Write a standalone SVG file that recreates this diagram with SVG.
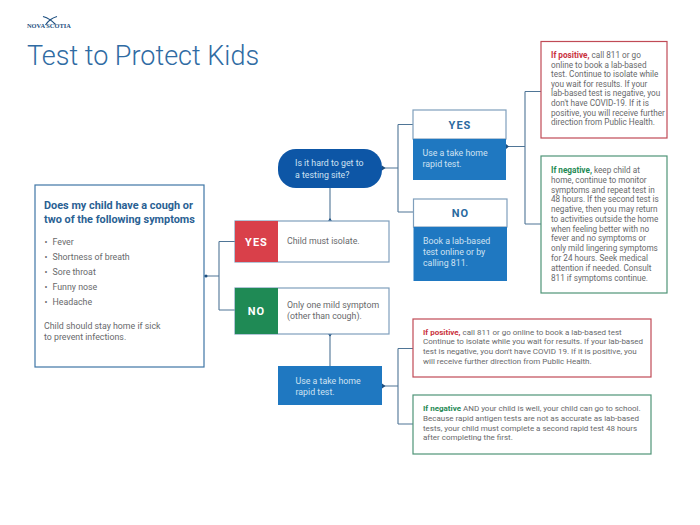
<svg xmlns="http://www.w3.org/2000/svg" width="700" height="525" viewBox="0 0 700 525">
<style>
text{font-family:Roboto,"Liberation Sans",sans-serif}
.b{font-size:8.8px;fill:#68696b}
.n{font-size:8.2px;fill:#68696b}
.m{font-size:8px;fill:#68696b}
.w{font-size:8.8px;fill:#cfe2f2}
.box{fill:#fff;stroke-width:1.2}
.sb{stroke:#7f9fbc}
.c{fill:none;stroke:#4f7596;stroke-width:1.1}
.d{fill:#1d4f80}
.lab{font-size:11px;font-weight:700;letter-spacing:1px;text-anchor:middle}
.r{font-weight:700;fill:#c9313d}
.g{font-weight:700;fill:#1f8a55}
</style>
<rect width="700" height="525" fill="#fff"/>
<g id="logo">
<path d="M43 16.500C48 18 52 20.500 55.500 24.500M57 16.500C52 18 48 21 45.500 25" fill="none" stroke="#1d4f80" stroke-width="1.2"/>
<text x="27" y="28" font-size="6.400" font-weight="700" fill="#1d4f80" style="font-family:'Liberation Serif',serif">NOVA SCOTIA</text>
</g>
<text id="title" x="27" y="65" font-size="27" font-weight="300" fill="#2f6ba3">Test to Protect Kids</text>
<g id="connectors">
<path class="c" d="M204 276H219M219 241.500V310M219 241.500H235M219 310H235"/>
<path class="c" d="M330 188V221M330 334V366"/>
<path class="c" d="M382 168H398M398 124.500V212M398 124.500H413M398 212H413"/>
<path class="c" d="M506 146.500H525M525 91.500V224M525 91.500H541M525 224H541"/>
<path class="c" d="M382 386H398M398 348.500V424M398 348.500H413M398 424H413"/>
<circle class="d" cx="206" cy="276" r="1.500"/>
<path class="d" d="M328 221L330 218 332 221ZM328 334L330 336.500 332 334ZM382 165.500L385.500 168 382 170.500ZM506 144L509 146.500 506 149ZM382 383.500L385.500 386 382 388.500Z"/>
</g>
<g id="symptoms">
<rect class="box" x="35" y="185" width="169" height="182" stroke="#3f76a6"/>
<text x="44" y="209" font-size="10.900" font-weight="700" fill="#2a6193">Does my child have a cough or</text>
<text x="44" y="223" font-size="10.900" font-weight="700" fill="#2a6193">two of the following symptoms</text>
<text class="b" x="44.500" y="245">•</text><text class="b" x="52.500" y="245">Fever</text>
<text class="b" x="44.500" y="260">•</text><text class="b" x="52.500" y="260">Shortness of breath</text>
<text class="b" x="44.500" y="274.500">•</text><text class="b" x="52.500" y="274.500">Sore throat</text>
<text class="b" x="44.500" y="289.500">•</text><text class="b" x="52.500" y="289.500">Funny nose</text>
<text class="b" x="44.500" y="304.500">•</text><text class="b" x="52.500" y="304.500">Headache</text>
<text class="b" x="44" y="329">Child should stay home if sick</text>
<text class="b" x="44" y="340">to prevent infections.</text>
</g>
<g id="decision">
<rect x="278" y="149" width="104" height="39" rx="18" fill="#0d56a6"/>
<text class="w" x="295" y="166">Is it hard to get to</text>
<text class="w" x="295" y="178">a testing site?</text>
</g>
<g id="yes-isolate">
<rect class="box sb" x="235" y="221" width="154" height="41"/>
<rect x="235" y="221" width="43" height="41" fill="#d9404a"/>
<text class="lab" x="256.500" y="245.500" fill="#fff">YES</text>
<text class="b" x="287" y="243.500">Child must isolate.</text>
</g>
<g id="no-mild">
<rect class="box sb" x="235" y="288" width="154" height="46"/>
<rect x="235" y="288" width="43" height="46" fill="#1f8a55"/>
<text class="lab" x="256.500" y="315" fill="#fff">NO</text>
<text class="b" x="287" y="308">Only one mild symptom</text>
<text class="b" x="287" y="319">(other than cough).</text>
</g>
<g id="yes-rapid">
<rect class="box sb" x="413" y="110" width="93" height="29"/>
<rect x="413" y="139" width="93" height="41" fill="#1f78c1"/>
<text class="lab" x="460" y="129" fill="#2a6a9f">YES</text>
<text class="w" x="422.500" y="156">Use a take home</text>
<text class="w" x="422.500" y="167">rapid test.</text>
</g>
<g id="no-lab">
<rect class="box sb" x="413.500" y="199" width="93.500" height="28"/>
<rect x="413.500" y="227" width="93.500" height="54" fill="#1f78c1"/>
<text class="lab" x="460.500" y="217" fill="#2a6a9f">NO</text>
<text class="w" x="423" y="244">Book a lab-based</text>
<text class="w" x="423" y="255">test online or by</text>
<text class="w" x="423" y="266">calling 811.</text>
</g>
<g id="rapid">
<rect x="278" y="366" width="104" height="39" fill="#1f78c1"/>
<text class="w" x="295.500" y="383.500">Use a take home</text>
<text class="w" x="295.500" y="395">rapid test.</text>
</g>
<g id="positive-top">
<rect class="box" x="541" y="41.500" width="126" height="96.500" stroke="#c04a55"/>
<text class="n" x="551" y="58"><tspan class="r">If positive,</tspan> call 811 or go</text>
<text class="n" x="551" y="67.600">online to book a lab-based</text>
<text class="n" x="551" y="77.200">test. Continue to isolate while</text>
<text class="n" x="551" y="86.800">you wait for results. If your</text>
<text class="n" x="551" y="96.400">lab-based test is negative, you</text>
<text class="n" x="551" y="106">don't have COVID-19. If it is</text>
<text class="n" x="551" y="115.600">positive, you will receive further</text>
<text class="n" x="551" y="125.200">direction from Public Health.</text>
</g>
<g id="negative-top">
<rect class="box" x="541" y="156" width="126" height="137" stroke="#4f9477"/>
<text class="n" x="551" y="173"><tspan class="g">If negative,</tspan> keep child at</text>
<text class="n" x="551" y="182.800">home, continue to monitor</text>
<text class="n" x="551" y="192.500">symptoms and repeat test in</text>
<text class="n" x="551" y="202.300">48 hours. If the second test is</text>
<text class="n" x="551" y="212.100">negative, then you may return</text>
<text class="n" x="551" y="221.800">to activities outside the home</text>
<text class="n" x="551" y="231.600">when feeling better with no</text>
<text class="n" x="551" y="241.400">fever and no symptoms or</text>
<text class="n" x="551" y="251.100">only mild lingering symptoms</text>
<text class="n" x="551" y="260.900">for 24 hours. Seek medical</text>
<text class="n" x="551" y="270.700">attention if needed. Consult</text>
<text class="n" x="551" y="280.500">811 if symptoms continue.</text>
</g>
<g id="positive-bottom">
<rect class="box" x="413" y="319" width="238" height="58" stroke="#c04a55"/>
<text class="m" x="423" y="334.500"><tspan class="r">If positive,</tspan> call 811 or go online to book a lab-based test</text>
<text class="m" x="423" y="344.300">Continue to isolate while you wait for results. If your lab-based</text>
<text class="m" x="423" y="354">test is negative, you don't have COVID 19. If it is positive, you</text>
<text class="m" x="423" y="363.800">will receive further direction from Public Health.</text>
</g>
<g id="negative-bottom">
<rect class="box" x="413" y="395" width="238" height="59" stroke="#4f9477"/>
<text class="m" x="423" y="411"><tspan class="g">If negative</tspan> AND your child is well, your child can go to school.</text>
<text class="m" x="423" y="420.800">Because rapid antigen tests are not as accurate as lab-based</text>
<text class="m" x="423" y="430.600">tests, your child must complete a second rapid test 48 hours</text>
<text class="m" x="423" y="440.400">after completing the first.</text>
</g>
</svg>
